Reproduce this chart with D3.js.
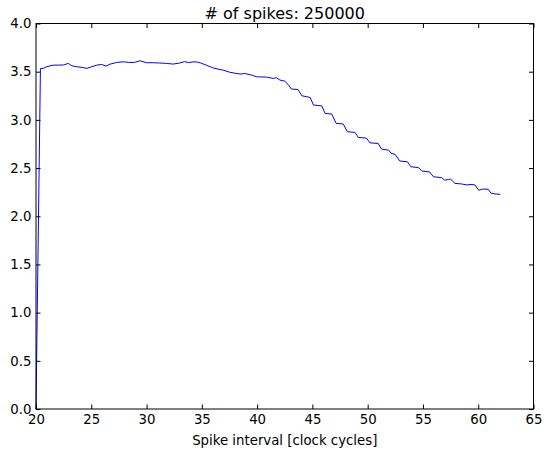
<!DOCTYPE html>
<html>
<head>
<meta charset="utf-8">
<script src="https://cdn.jsdelivr.net/npm/d3@7"></script>
<style>
  html, body { margin: 0; padding: 0; background: #fff; }
  svg { display: block; }
  text { font-family: "DejaVu Sans", sans-serif; fill: #000; }
</style>
</head>
<body>
<svg id="chart" width="544" height="454"></svg>
<script>
const title = "# of spikes: 250000";
const xLabel = "Spike interval [clock cycles]";
const xTicks = [20, 25, 30, 35, 40, 45, 50, 55, 60, 65];
const yTicks = [0, 0.5, 1.0, 1.5, 2.0, 2.5, 3.0, 3.5, 4.0];

const intervals = [
  20, 20.4, 20.65, 20.95, 21.55, 22.0, 22.5, 22.92, 23.25, 23.7, 24.15, 24.6,
  25.04, 25.5, 25.94, 26.33, 26.69, 27.3, 27.9, 28.35, 28.9, 29.4, 30.0, 30.6,
  31.2, 31.8, 32.4, 33.0, 33.45, 33.8, 34.2, 34.6, 34.9, 35.4, 36.0, 36.45,
  36.9, 37.5, 38.1, 38.55, 38.85, 39.5, 39.95, 40.85, 41.45, 41.75, 42.07,
  42.5, 42.8, 43.1, 43.7, 44.05, 44.5, 44.8, 45.1, 45.85, 46.15, 46.75, 47.15,
  47.8, 48.15, 48.85, 49.15, 49.9, 50.2, 50.95, 51.25, 51.9, 52.1, 52.5, 52.9,
  53.6, 53.9, 54.6, 54.9, 55.6, 55.95, 56.7, 56.95, 57.3, 57.5, 57.9, 58.5,
  58.7, 59.0, 59.35, 59.7, 60.05, 60.4, 60.9, 61.15, 61.5, 62.0
];
const values = [
  0, 3.534, 3.534, 3.551, 3.568, 3.568, 3.57, 3.586, 3.561, 3.551, 3.545, 3.534,
  3.551, 3.568, 3.575, 3.558, 3.578, 3.596, 3.603, 3.596, 3.596, 3.613, 3.593, 3.593,
  3.59, 3.586, 3.579, 3.59, 3.605, 3.594, 3.602, 3.60, 3.59, 3.568, 3.54, 3.527,
  3.517, 3.495, 3.482, 3.475, 3.482, 3.465, 3.447, 3.444, 3.43, 3.437, 3.413,
  3.402, 3.368, 3.32, 3.315, 3.25, 3.24, 3.232, 3.154, 3.145, 3.067, 3.06, 2.964,
  2.957, 2.877, 2.87, 2.818, 2.81, 2.762, 2.755, 2.697, 2.685, 2.655, 2.64, 2.573,
  2.565, 2.514, 2.505, 2.469, 2.46, 2.41, 2.40, 2.376, 2.38, 2.385, 2.341, 2.335,
  2.33, 2.325, 2.33, 2.325, 2.27, 2.282, 2.28, 2.24, 2.232, 2.227
];

const W = 544, H = 454;
const m = { left: 36, right: 10.5, top: 23.5, bottom: 45 };
const svg = d3.select("#chart");

const x = d3.scaleLinear().domain([20, 65]).range([m.left, W - m.right]);
const y = d3.scaleLinear().domain([0, 4]).range([H - m.bottom, m.top]);

const data = intervals.map((d, i) => [d, values[i]]);

// line
const g = svg.append("g");
g.append("path")
  .datum(data)
  .attr("fill", "none")
  .attr("stroke", "#0000ff")
  .attr("stroke-width", 1)
  .attr("stroke-linejoin", "round")
  .attr("d", d3.line().x(d => x(d[0])).y(d => y(d[1])));

const fs = 13.3;
function styleAxis(sel) {
  sel.select(".domain").remove();
  sel.selectAll(".tick line").attr("stroke", "#000").attr("stroke-width", 1);
  sel.selectAll(".tick text").attr("font-size", fs).attr("font-family", "DejaVu Sans").attr("fill", "#000");
}

// bottom
svg.append("g").attr("transform", `translate(0,${y(0)})`)
  .call(d3.axisBottom(x).tickValues(xTicks).tickFormat(d3.format("d"))
    .tickSizeInner(-4.5).tickSizeOuter(0).tickPadding(6))
  .call(styleAxis);
// top
svg.append("g").attr("transform", `translate(0,${y(4)})`)
  .call(d3.axisTop(x).tickValues(xTicks).tickFormat("")
    .tickSizeInner(-4.5).tickSizeOuter(0))
  .call(styleAxis);
// left
svg.append("g").attr("transform", `translate(${x(20)},0)`)
  .call(d3.axisLeft(y).tickValues(yTicks).tickFormat(d3.format(".1f"))
    .tickSizeInner(-4.5).tickSizeOuter(0).tickPadding(4.5))
  .call(styleAxis);
// right
svg.append("g").attr("transform", `translate(${x(65)},0)`)
  .call(d3.axisRight(y).tickValues(yTicks).tickFormat("")
    .tickSizeInner(-4.5).tickSizeOuter(0))
  .call(styleAxis);

// frame
svg.append("rect")
  .attr("x", x(20)).attr("y", y(4))
  .attr("width", x(65) - x(20)).attr("height", y(0) - y(4))
  .attr("fill", "none").attr("stroke", "#000").attr("stroke-width", 1);

// title
svg.append("text")
  .attr("x", (x(20) + x(65)) / 2).attr("y", 18.5)
  .attr("text-anchor", "middle").attr("font-size", 16)
  .text(title);

// x label
svg.append("text")
  .attr("x", (x(20) + x(65)) / 2).attr("y", 444.5)
  .attr("text-anchor", "middle").attr("font-size", fs)
  .text(xLabel);
</script>
</body>
</html>
